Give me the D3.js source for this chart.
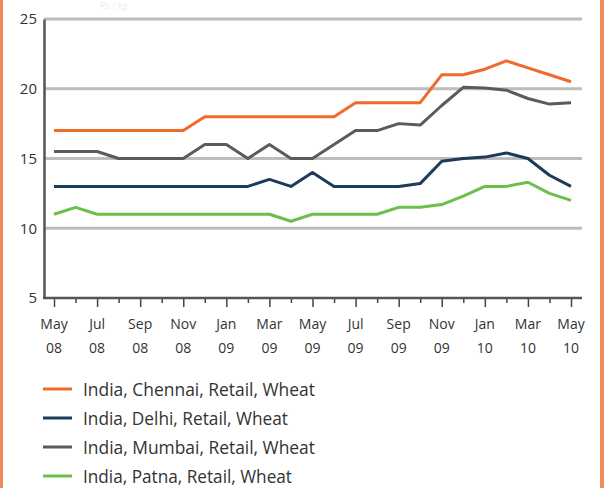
<!DOCTYPE html>
<html><head><meta charset="utf-8">
<script src="https://cdn.jsdelivr.net/npm/d3@7"></script>
<style>
html,body{margin:0;padding:0;background:#fff;}
svg{display:block;}
text{font-family:"Open Sans","Noto Sans",sans-serif;fill:#333;}
</style></head>
<body>
<svg id="c" width="605" height="488"></svg>
<script>
// ---- data ----
const months = ["May 08","Jun 08","Jul 08","Aug 08","Sep 08","Oct 08","Nov 08","Dec 08","Jan 09","Feb 09","Mar 09","Apr 09","May 09","Jun 09","Jul 09","Aug 09","Sep 09","Oct 09","Nov 09","Dec 09","Jan 10","Feb 10","Mar 10","Apr 10","May 10"];
const tickLabelsTop = ["May","Jul","Sep","Nov","Jan","Mar","May","Jul","Sep","Nov","Jan","Mar","May"];
const tickLabelsBottom = ["08","08","08","08","09","09","09","09","09","09","10","10","10"];
const yTicks = [5,10,15,20,25];
const chennai = [17,17,17,17,17,17,17,18,18,18,18,18,18,18,19,19,19,19,21,21,21.4,22,21.5,21,20.5];
const delhi   = [13,13,13,13,13,13,13,13,13,13,13.5,13,14,13,13,13,13,13.2,14.8,15,15.1,15.4,15,13.8,13];
const mumbai  = [15.5,15.5,15.5,15,15,15,15,16,16,15,16,15,15,16,17,17,17.5,17.4,18.8,20.1,20.05,19.9,19.3,18.9,19];
const patna   = [11,11.5,11,11,11,11,11,11,11,11,11,10.5,11,11,11,11,11.5,11.5,11.7,12.3,13,13,13.3,12.5,12];
const seriesNames = ["India, Chennai, Retail, Wheat","India, Delhi, Retail, Wheat","India, Mumbai, Retail, Wheat","India, Patna, Retail, Wheat"];
const seriesColors = ["#ef6a2b","#1d3a58","#5b5b5b","#6dbf4b"];
const seriesData = [chennai, delhi, mumbai, patna];

const svg = d3.select("#c");
// frame
svg.append("rect").attr("x",0).attr("y",0).attr("width",605).attr("height",488).attr("fill","#fff");
svg.append("rect").attr("x",0).attr("y",0).attr("width",3).attr("height",488).attr("fill","#f08a5a");
svg.append("rect").attr("x",600).attr("y",0).attr("width",4).attr("height",488).attr("fill","#f08a5a");
// faint title remnant
svg.append("text").attr("x",100).attr("y",9).attr("font-size",9).style("fill","#ececec").text("Rs / kg");

const x = d3.scaleLinear().domain([0, months.length-1]).range([54, 571]);
const y = d3.scaleLinear().domain([5,25]).range([298,19]);

// gridlines
svg.append("g").selectAll("line").data(yTicks.filter(d=>d>5)).join("line")
  .attr("x1",44).attr("x2",582).attr("y1",d=>y(d)).attr("y2",d=>y(d))
  .attr("stroke","#bdbdbd").attr("stroke-width",3);

// y axis
const yAxis = d3.axisLeft(y).tickValues(yTicks).tickSize(0).tickPadding(7);
const gy = svg.append("g").attr("transform","translate(44,0)").call(yAxis);
gy.select(".domain").attr("stroke","#555").attr("stroke-width",2.5);
gy.selectAll("text").attr("font-size",15).style("font-family","'Open Sans',sans-serif").style("fill","#333");

// x axis
const xAxis = d3.axisBottom(x).tickValues(d3.range(months.length))
  .tickSize(0).tickFormat("");
const gx = svg.append("g").attr("transform","translate(0,298)").call(xAxis);
gx.select(".domain").remove();
svg.append("line").attr("x1",43).attr("x2",582).attr("y1",298).attr("y2",298).attr("stroke","#555").attr("stroke-width",2.5);
gx.selectAll(".tick line").attr("y2",(d,i)=>i%2===0?9:5).attr("stroke","#444").attr("stroke-width",1.5);
const lbl = svg.append("g");
d3.range(0, months.length, 2).forEach((m,k)=>{
  lbl.append("text").attr("x",x(m)).attr("y",329).attr("text-anchor","middle").attr("font-size",14).text(tickLabelsTop[k]);
  lbl.append("text").attr("x",x(m)).attr("y",353).attr("text-anchor","middle").attr("font-size",14).text(tickLabelsBottom[k]);
});

// lines
const line = d3.line().x((d,i)=>x(i)).y(d=>y(d));
svg.append("g").selectAll("path").data(seriesData).join("path")
  .attr("d",line).attr("fill","none")
  .attr("stroke",(d,i)=>seriesColors[i]).attr("stroke-width",3).attr("stroke-linejoin","round");

// legend
const lg = svg.append("g");
const widths = [232,205,232,209];
seriesNames.forEach((n,i)=>{
  const cy = 389 + i*29;
  lg.append("line").attr("x1",43).attr("x2",72).attr("y1",cy).attr("y2",cy)
    .attr("stroke",seriesColors[i]).attr("stroke-width",3);
  lg.append("text").attr("x",83).attr("y",cy+7).attr("font-size",19)
    .style("font-family","'Liberation Sans Narrow','Open Sans',sans-serif")
    .attr("textLength",widths[i]).attr("lengthAdjust","spacingAndGlyphs").text(n);
});
</script>
</body></html>
